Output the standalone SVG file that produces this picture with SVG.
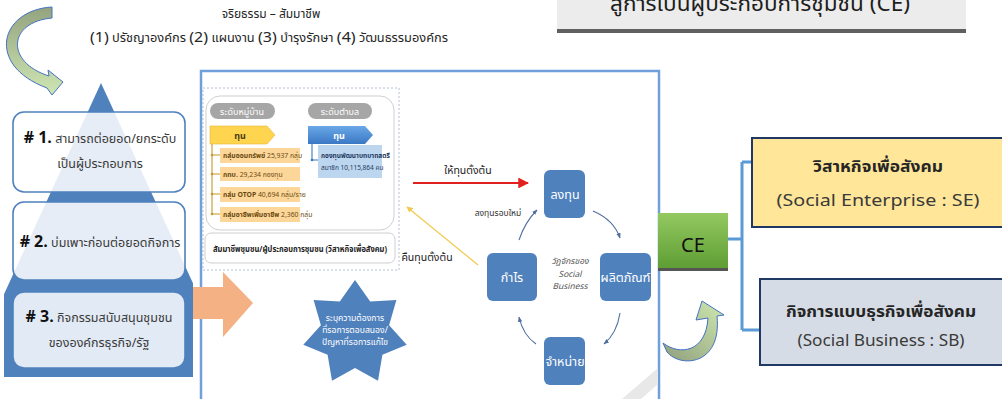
<svg xmlns="http://www.w3.org/2000/svg" width="1002" height="399" viewBox="0 0 1002 399">
<style>
text{font-family:"Noto Sans Thai","Leelawadee UI",Tahoma,"Noto Sans","Liberation Sans",sans-serif;}
.hd{fill:#262626;}
.pt{fill:#3a3a3a;font-size:12.5px;}
.pn{fill:#111;font-size:16px;font-weight:bold;}
.cyc{fill:#4f81bd;}
.cyt{fill:#fff;font-size:12.5px;text-anchor:middle;}
.it{font-size:6.8px;fill:#6b4a10;}
.pbox{stroke:#4f81bd;stroke-width:1.6;}
.rt1{font-size:16px;font-weight:bold;fill:#262626;text-anchor:middle;}
.rt2{font-size:15.5px;fill:#3a3a3a;text-anchor:middle;}
.brk{stroke:#5b9bd5;stroke-width:3;fill:none;}
.cur{stroke:#4f6fa0;stroke-width:1.1;fill:none;marker-end:url(#mb);}
.st{font-size:8.6px;fill:#fff;text-anchor:middle;}
</style>
<defs>
<linearGradient id="gTL" x1="0" y1="0" x2="0" y2="1"><stop offset="0" stop-color="#93a37f"/><stop offset="1" stop-color="#cfe6b2"/></linearGradient>
<linearGradient id="gBR" x1="0" y1="1" x2="1" y2="0"><stop offset="0" stop-color="#8f9f7c"/><stop offset="1" stop-color="#d0e8b0"/></linearGradient>
<linearGradient id="gCE" x1="0" y1="0" x2="0" y2="1"><stop offset="0" stop-color="#93c960"/><stop offset="1" stop-color="#5e9e34"/></linearGradient>
<linearGradient id="gBP" x1="0" y1="0" x2="0" y2="1"><stop offset="0" stop-color="#6aa8e8"/><stop offset="1" stop-color="#3b78c4"/></linearGradient>
<clipPath id="cPy"><rect x="4" y="80" width="189" height="297"/></clipPath>
<marker id="mr" viewBox="0 0 10 10" refX="9" refY="5" markerWidth="6" markerHeight="6" orient="auto"><path d="M0,0 L10,5 L0,10 Z" fill="#e32020"/></marker>
<marker id="my" viewBox="0 0 10 10" refX="9" refY="5" markerWidth="5" markerHeight="5" orient="auto"><path d="M0,0 L10,5 L0,10 Z" fill="#f2c94c"/></marker>
<marker id="mb" viewBox="0 0 10 10" refX="9" refY="5" markerWidth="5" markerHeight="5" orient="auto"><path d="M0,1 L10,5 L0,9 Z" fill="#4f6fa0"/></marker>
</defs>

<g id="header">
<text x="271" y="18" class="hd" font-size="12" text-anchor="middle">จริยธรรม – สัมมาชีพ</text>
<text x="269" y="42" class="hd" font-size="12" text-anchor="middle" textLength="358" lengthAdjust="spacingAndGlyphs"><tspan font-size="15">(1)</tspan> ปรัชญาองค์กร <tspan font-size="15">(2)</tspan> แผนงาน <tspan font-size="15">(3)</tspan> บำรุงรักษา <tspan font-size="15">(4)</tspan> วัฒนธรรมองค์กร</text>
</g>

<g id="title-box">
<rect x="557" y="-2" width="409" height="31" fill="#ececec"/>
<rect x="557" y="29" width="409" height="4" fill="#606060"/>
<text x="760" y="11" font-size="21" fill="#1e1e1e" text-anchor="middle" textLength="300" lengthAdjust="spacingAndGlyphs">สู่การเป็นผู้ประกอบการชุมชน (CE)</text>
</g>

<g id="arrow-top-left">
<path d="M52,7 C0,10 -15,65 47,88 L52,95 L63,82 L48,70 L49,76 C5,62 8,22 52,18 Z" fill="url(#gTL)" stroke="#4472c4" stroke-width="1"/>
</g>

<g id="pyramid">
<g clip-path="url(#cPy)">
<polygon points="101,83 -34,377 236,377" fill="#4f81bd"/>
</g>
</g>
<g id="level-1">
<rect x="13" y="112" width="172" height="80" rx="11" fill="#fff" fill-opacity="0.86" class="pbox"/>
<text x="100" y="143" text-anchor="middle"><tspan class="pn"># 1.</tspan><tspan class="pt"> สามารถต่อยอด/ยกระดับ</tspan></text>
<text x="100" y="168" text-anchor="middle" class="pt">เป็นผู้ประกอบการ</text>
</g>
<g id="level-2">
<rect x="13" y="202" width="172" height="78" rx="11" fill="#fff" fill-opacity="0.86" class="pbox"/>
<text x="100" y="247" text-anchor="middle"><tspan class="pn"># 2.</tspan><tspan class="pt"> บ่มเพาะก่อนต่อยอดกิจการ</tspan></text>
</g>
<g id="level-3">
<rect x="13" y="292" width="172" height="76" rx="11" fill="#e2eaf5" class="pbox"/>
<text x="99" y="322" text-anchor="middle"><tspan class="pn"># 3.</tspan><tspan class="pt"> กิจกรรมสนับสนุนชุมชน</tspan></text>
<text x="99" y="347" text-anchor="middle" class="pt">ขององค์กรธุรกิจ/รัฐ</text>
</g>

<g id="picture">
<rect x="201" y="71" width="458" height="340" fill="#fff" stroke="#6fa0dc" stroke-width="2.5"/>
<polygon points="622,399 658,368 658,384 641,399" fill="#e8e8e8"/>
<rect x="203" y="88" width="196" height="182" fill="none" stroke="#9fb0c8" stroke-width="0.8" stroke-dasharray="2,2"/>
<rect x="206" y="96" width="188" height="134" rx="14" fill="#fff" stroke="#cfcfcf" stroke-width="1"/>
<rect x="210" y="103" width="65" height="16" rx="8" fill="#a6a6a6"/>
<text x="242" y="114.5" font-size="9" fill="#fff" text-anchor="middle">ระดับหมู่บ้าน</text>
<rect x="308" y="103" width="64" height="16" rx="8" fill="#a6a6a6"/>
<text x="340" y="114.5" font-size="9" fill="#fff" text-anchor="middle">ระดับตำบล</text>
<polygon points="210,126 267,126 275,135 267,144 210,144" fill="#ffd54f" stroke="#e2b53a" stroke-width="0.6"/>
<text x="240" y="139" font-size="9" font-weight="bold" fill="#4a3a10" text-anchor="middle">ทุน</text>
<polygon points="308,126 365,126 373,135 365,144 308,144" fill="url(#gBP)"/>
<text x="339" y="139" font-size="9" font-weight="bold" fill="#fff" text-anchor="middle">ทุน</text>
<path d="M212,144 V215 M212,155 H220 M212,174 H220 M212,194 H220 M212,214 H220" stroke="#c59a2a" stroke-width="1.1" fill="none"/>
<circle cx="212" cy="155" r="1.3" fill="#c59a2a"/><circle cx="212" cy="174" r="1.3" fill="#c59a2a"/><circle cx="212" cy="194" r="1.3" fill="#c59a2a"/><circle cx="212" cy="214" r="1.3" fill="#c59a2a"/>
<rect x="220" y="148" width="80" height="15" fill="#fdd79a"/>
<rect x="220" y="167" width="80" height="14" fill="#fdd79a"/>
<rect x="220" y="187" width="80" height="15" fill="#fdd79a"/>
<rect x="220" y="207" width="80" height="15" fill="#fdd79a"/>
<text x="223" y="158" class="it"><tspan font-weight="bold">กลุ่มออมทรัพย์</tspan> 25,937 กลุ่ม</text>
<text x="223" y="177" class="it"><tspan font-weight="bold">กทบ.</tspan> 29,234 กองทุน</text>
<text x="223" y="197" class="it"><tspan font-weight="bold">กลุ่ม OTOP</tspan> 40,694 กลุ่ม/ราย</text>
<text x="223" y="217" class="it"><tspan font-weight="bold">กลุ่มอาชีพเพิ่มอาชีพ</tspan> 2,360 กลุ่ม</text>
<path d="M312,144 V160 H318" stroke="#3b78c4" stroke-width="1.1" fill="none"/>
<circle cx="312" cy="160" r="1.3" fill="#3b78c4"/>
<rect x="318" y="145" width="64" height="33" fill="#bcd6f0"/>
<text x="321" y="158" font-size="6.5" font-weight="bold" fill="#1f3a60">กองทุนพัฒนาบทบาทสตรี</text>
<text x="321" y="170" font-size="6.5" fill="#1f3a60">สมาชิก 10,115,864 คน</text>
<rect x="205" y="233" width="190" height="30" rx="6" fill="#fff" stroke="#cfcfcf" stroke-width="1"/>
<text x="300" y="252" font-size="8.6" font-weight="bold" fill="#222" text-anchor="middle" textLength="174" lengthAdjust="spacingAndGlyphs">สัมมาชีพชุมชน/ผู้ประกอบการชุมชน (วิสาหกิจเพื่อสังคม)</text>
</g>

<g id="orange-arrow">
<polygon points="193,287 223,287 223,272 253,303 223,337 223,319 193,319" fill="#f4b183"/>
</g>

<g id="star">
<polygon points="355,280 370.2,301.5 396.4,300 389.1,325.2 406.7,344.8 382.4,354.8 378,380.8 355,368 332,380.8 327.6,354.8 303.3,344.8 320.9,325.2 313.6,300 339.8,301.5" fill="#4f81bd"/>
<text x="355" y="321" class="st">ระบุความต้องการ</text>
<text x="355" y="333" class="st">ที่รอการตอบสนอง/</text>
<text x="355" y="345" class="st">ปัญหาที่รอการแก้ไข</text>
</g>

<g id="node-invest"><rect x="544" y="170" width="41" height="48" rx="6" class="cyc"/><text x="565" y="199" class="cyt">ลงทุน</text></g>
<g id="node-product"><rect x="600" y="253" width="51" height="48" rx="6" class="cyc"/><text x="625.5" y="282" class="cyt">ผลิตภัณฑ์</text></g>
<g id="node-sell"><rect x="544" y="337" width="41" height="48" rx="6" class="cyc"/><text x="565" y="366" class="cyt">จำหน่าย</text></g>
<g id="node-profit"><rect x="487" y="253" width="50" height="48" rx="6" class="cyc"/><text x="512" y="282" class="cyt">กำไร</text></g>
<g id="cycle-label">
<text x="570" y="264" font-size="8.5" font-style="italic" fill="#555" text-anchor="middle">วัฏจักรของ</text>
<text x="570" y="277" font-size="8.5" font-style="italic" fill="#555" text-anchor="middle">Social</text>
<text x="570" y="289" font-size="8.5" font-style="italic" fill="#555" text-anchor="middle">Business</text>
</g>

<g id="connectors">
<line x1="413" y1="183" x2="528" y2="183" stroke="#e32020" stroke-width="1.8" marker-end="url(#mr)"/>
<text x="468" y="174" font-size="10.5" fill="#222" text-anchor="middle">ให้ทุนตั้งต้น</text>
<line x1="478" y1="265" x2="407" y2="207" stroke="#f2c94c" stroke-width="1.2" marker-end="url(#my)"/>
<text x="427" y="261" font-size="10.5" fill="#222" text-anchor="middle">คืนทุนตั้งต้น</text>
<path d="M593,211 Q614,220 620,238" class="cur"/>
<path d="M620,313 Q617,333 604,344" class="cur"/>
<path d="M536,344 Q523,335 519,317" class="cur"/>
<path d="M519,240 Q525,222 537,210" class="cur"/>
<text x="498" y="216" font-size="8.5" fill="#333" text-anchor="middle">ลงทุนรอบใหม่</text>
<path d="M728,239 H742 M742,162 V330 M742,162 H752 M742,330 H760" class="brk"/>
</g>

<g id="node-ce">
<rect x="658" y="266" width="70" height="5" fill="#555"/>
<rect x="658" y="213" width="70" height="55" fill="url(#gCE)"/>
<text x="693" y="252" font-size="20" fill="#111" text-anchor="middle">CE</text>
</g>

<g id="node-se">
<rect x="752" y="138" width="252" height="89" fill="#ffe699" stroke="#203864" stroke-width="2"/>
<text x="878" y="172" class="rt1" textLength="130" lengthAdjust="spacingAndGlyphs">วิสาหกิจเพื่อสังคม</text>
<text x="878" y="206" class="rt2" textLength="203" lengthAdjust="spacingAndGlyphs">(Social Enterprise : SE)</text>
</g>

<g id="node-sb">
<rect x="760" y="279" width="244" height="86" fill="#d6dce5" stroke="#203864" stroke-width="2"/>
<text x="881" y="317" class="rt1" textLength="190" lengthAdjust="spacingAndGlyphs">กิจการแบบธุรกิจเพื่อสังคม</text>
<text x="881" y="346" class="rt2" textLength="167" lengthAdjust="spacingAndGlyphs">(Social Business : SB)</text>
</g>

<g id="arrow-bottom-right">
<path d="M663,343 C680,356 706,352 708,318 L696,320 L702,301 L724,315 L717,316 C722,366 680,368 667,352 Z" fill="url(#gBR)" stroke="#4472c4" stroke-width="1"/>
</g>
</svg>
